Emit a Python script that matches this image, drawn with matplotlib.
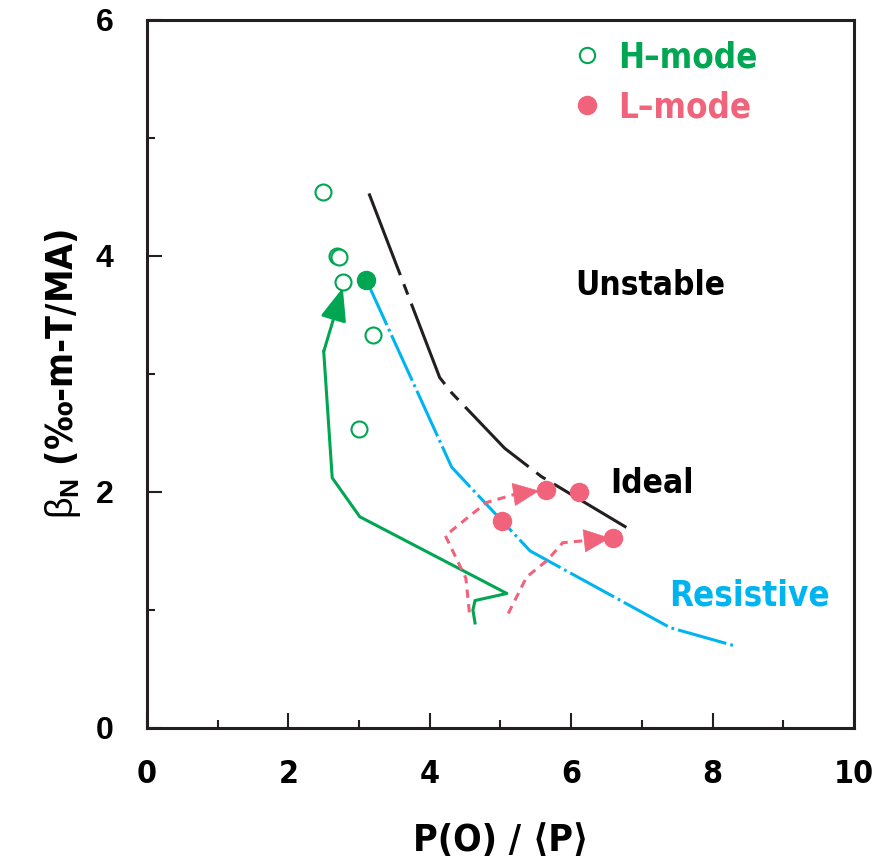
import numpy as np
import matplotlib
matplotlib.use('Agg')
import matplotlib.pyplot as plt
from matplotlib.lines import Line2D

plt.rcParams['lines.scale_dashes'] = False
plt.rcParams['mathtext.fontset'] = 'custom'
plt.rcParams['mathtext.rm'] = 'Liberation Sans'
plt.rcParams['mathtext.bf'] = 'Liberation Sans:bold'

COND = dict(family='DejaVu Sans', weight='bold', stretch='condensed')
GREEN = '#00a651'
PINK = '#f0637b'
CYAN = '#00b4ef'
BLACK = '#231f20'

# H-mode points (open) and the one filled H-mode point
h_x = [2.49, 2.69, 2.71, 2.77, 3.20, 3.00]
h_y = [4.54, 4.00, 3.99, 3.78, 3.33, 2.53]
h_fill_x = [3.10]
h_fill_y = [3.80]

# L-mode points
l_x = [5.64, 6.11, 5.02, 6.59]
l_y = [2.02, 2.00, 1.75, 1.61]

# ideal limit (black)
ideal_x = [3.14, 4.14, 4.31, 5.06, 5.58, 6.78]
ideal_y = [4.53, 2.97, 2.84, 2.37, 2.13, 1.70]

# resistive limit (cyan)
res_x = [3.10, 4.31, 5.42, 7.40, 8.29]
res_y = [3.80, 2.21, 1.50, 0.85, 0.70]

# H-mode trajectory (green), last point is the arrow tip
traj_h_x = [4.64, 4.61, 4.64, 5.09, 3.01, 2.62, 2.50, 2.77]
traj_h_y = [0.89, 1.00, 1.08, 1.14, 1.79, 2.12, 3.19, 3.73]

# L-mode trajectories (pink dashed), last point is the arrow tip
traj_l1_x = [4.56, 4.51, 4.22, 4.80, 5.20, 5.55]
traj_l1_y = [0.98, 1.27, 1.63, 1.91, 1.98, 2.01]
traj_l2_x = [5.11, 5.37, 5.66, 5.88, 6.24, 6.55]
traj_l2_y = [0.97, 1.28, 1.42, 1.57, 1.59, 1.61]

fig = plt.figure(figsize=(8.95, 8.65), dpi=100)
ax = fig.add_axes([0.1642, 0.1584, 0.79, 0.8185])

lw = 2.2

# limits
ax.plot(ideal_x, ideal_y, color=BLACK, lw=lw, dashes=(63, 7, 8, 7), zorder=2)
ax.plot(res_x, res_y, color=CYAN, lw=lw, dashes=(36, 3, 2, 3), zorder=2)

# trajectories
ax.plot(traj_h_x[:-1], traj_h_y[:-1], color=GREEN, lw=lw, zorder=3)
ax.annotate('', xy=(traj_h_x[-1], traj_h_y[-1]), xytext=(traj_h_x[-2], traj_h_y[-2]),
            arrowprops=dict(arrowstyle='-|>,head_length=1.0,head_width=0.4',
                            mutation_scale=20, color=GREEN, lw=lw,
                            shrinkA=0, shrinkB=0), zorder=3)

for tx, ty in [(traj_l1_x, traj_l1_y), (traj_l2_x, traj_l2_y)]:
    ax.plot(tx[:-1], ty[:-1], color=PINK, lw=lw, dashes=(6, 4.5), zorder=3)
    ax.annotate('', xy=(tx[-1], ty[-1]), xytext=(tx[-2], ty[-2]),
                arrowprops=dict(arrowstyle='-|>,head_length=0.9,head_width=0.4',
                                mutation_scale=20, color=PINK, lw=0.5,
                                shrinkA=0, shrinkB=0), zorder=3)

# points
ax.plot(h_x, h_y, 'o', ms=11.5, mfc='white', mec=GREEN, mew=1.5, ls='none', zorder=4)
ax.plot(h_fill_x, h_fill_y, 'o', ms=13, mfc=GREEN, mec=GREEN, ls='none', zorder=4)
ax.plot(l_x, l_y, 'o', ms=13, mfc=PINK, mec=PINK, ls='none', zorder=4)

# region labels
ax.text(7.12, 3.75, 'Unstable', fontsize=24, color='black', ha='center', va='center', **COND)
ax.text(7.14, 2.07, 'Ideal', fontsize=24, color='black', ha='center', va='center', **COND)
ax.text(8.52, 1.12, 'Resistive', fontsize=25, color=CYAN, ha='center', va='center', **COND)

# legend
handles = [Line2D([], [], marker='o', ls='none', ms=11, mfc='white', mec=GREEN, mew=1.5),
           Line2D([], [], marker='o', ls='none', ms=13, mfc=PINK, mec=PINK)]
leg = ax.legend(handles, ['H\u2013mode', 'L\u2013mode'], loc='upper left',
                bbox_to_anchor=(0.558, 1.015), frameon=False, handlelength=0.8,
                handletextpad=0.5, labelspacing=0.45,
                prop=dict(size=25, **COND))
for t, c in zip(leg.get_texts(), [GREEN, PINK]):
    t.set_color(c)

ax.set_xlim(0, 10)
ax.set_ylim(0, 6)
ax.set_xticks([0, 2, 4, 6, 8, 10])
ax.set_xticks([1, 3, 5, 7, 9], minor=True)
ax.set_yticks([0, 2, 4, 6])
ax.set_yticks([1, 3, 5], minor=True)
ax.tick_params(which='both', direction='in', top=False, right=False, color=BLACK, width=1.5)
ax.tick_params(which='major', length=11)
ax.tick_params(which='minor', length=6)
ax.tick_params(axis='x', pad=22)
ax.tick_params(axis='y', pad=24)
for lab in ax.get_xticklabels():
    lab.set_family('DejaVu Sans')
    lab.set_stretch('condensed')
    lab.set_weight('bold')
    lab.set_fontsize(23)
for lab in ax.get_yticklabels():
    lab.set_family(['Liberation Sans', 'DejaVu Sans'])
    lab.set_weight('bold')
    lab.set_fontsize(23)

for s in ax.spines.values():
    s.set_linewidth(2.2)
    s.set_color(BLACK)

ax.set_xlabel('P(O) / \u27e8P\u27e9', fontsize=27, labelpad=24, **COND)
ax.set_ylabel('$\\mathrm{\\beta}_{\\mathbf{N}}$ (\u2030-m-T/MA)', fontsize=27,
              labelpad=9, **COND)

fig.savefig('out.png', dpi=100)
